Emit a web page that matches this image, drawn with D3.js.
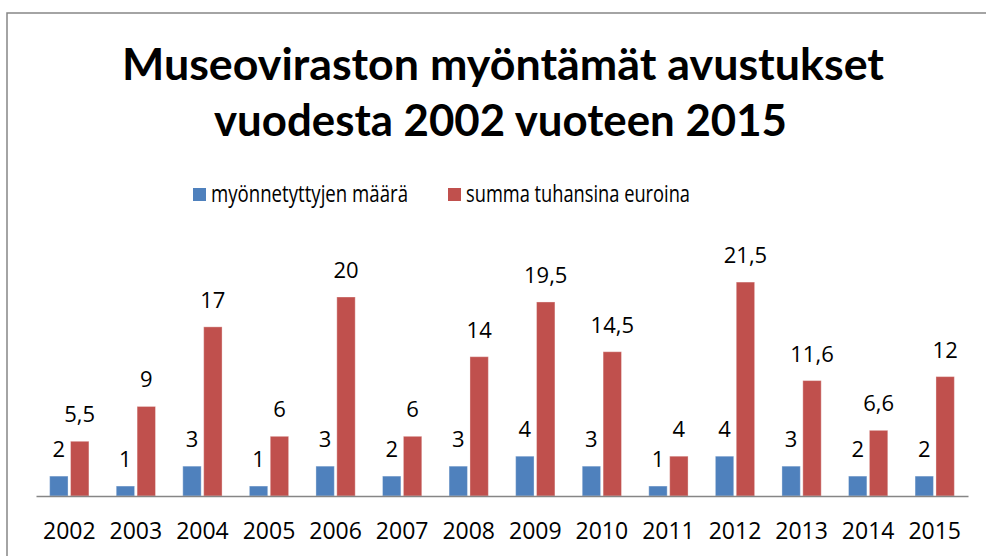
<!DOCTYPE html>
<html>
<head>
<meta charset="utf-8">
<script src="https://cdn.jsdelivr.net/npm/d3@7"></script>
<style>
  body { margin: 0; background: #fff; }
  svg { display: block; font-family: "Open Sans", Lato, sans-serif; }
</style>
</head>
<body>
<div id="chart"></div>
<script>
const width = 986, height = 556;

// data
const years = ["2002", "2003", "2004", "2005", "2006", "2007", "2008", "2009", "2010", "2011", "2012", "2013", "2014", "2015"];
const seriesNames = ["myönnetyttyjen määrä", "summa tuhansina euroina"];
const countValues = [2, 1, 3, 1, 3, 2, 3, 4, 3, 1, 4, 3, 2, 2];
const sumValues = [5.5, 9, 17, 6, 20, 6, 14, 19.5, 14.5, 4, 21.5, 11.6, 6.6, 12];
const colors = ["#4F81BD", "#C0504D"];

const rows = years.map((y, i) => ({ year: y, values: [countValues[i], sumValues[i]] }));

const svg = d3.select("#chart")
    .append("svg")
    .attr("width", width)
    .attr("height", height);

// chart border (runs off the right and bottom edge)
svg.append("rect")
    .attr("x", 7).attr("y", 13)
    .attr("width", 1000).attr("height", 600)
    .attr("fill", "none")
    .attr("stroke", "#868686")
    .attr("stroke-width", 1.5);

// Title
const title = svg.append("g")
    .attr("font-family", "Lato, 'Open Sans', sans-serif")
    .attr("font-weight", "bold").attr("fill", "#000").attr("text-anchor", "middle");
title.append("text")
    .attr("x", 503).attr("y", 80)
    .attr("font-size", "44px")
    .attr("textLength", 762).attr("lengthAdjust", "spacingAndGlyphs")
    .text("Museoviraston myöntämät avustukset");
title.append("text")
    .attr("x", 500.5).attr("y", 136)
    .attr("font-size", "44px")
    .attr("textLength", 573).attr("lengthAdjust", "spacingAndGlyphs")
    .text("vuodesta 2002 vuoteen 2015");

// Legend
const legendX = [193, 448];
const legendW = [197, 224];
seriesNames.forEach((name, i) => {
    const g = svg.append("g").attr("transform", `translate(${legendX[i]},188)`);
    g.append("rect").attr("width", 13).attr("height", 13).attr("fill", colors[i]);
    g.append("text")
        .attr("x", 18).attr("y", 14)
        .attr("font-size", "23px")
        .attr("fill", "#000")
        .attr("textLength", legendW[i]).attr("lengthAdjust", "spacingAndGlyphs")
        .text(name);
});

// Scales
const x0 = d3.scaleBand()
    .domain(years)
    .range([36, 968])
    .paddingInner(0.41)
    .paddingOuter(0.205);

const x1 = d3.scaleBand()
    .domain([0, 1])
    .range([0, x0.bandwidth()])
    .paddingInner(0.12);

const y = d3.scaleLinear()
    .domain([0, 25])
    .range([496, 496 - 25 * 9.95]);

const fmt = v => String(v).replace(".", ",");

// Bars
const groups = svg.selectAll("g.year")
    .data(rows)
    .enter()
    .append("g")
    .attr("class", "year")
    .attr("transform", d => `translate(${x0(d.year)},0)`);

groups.selectAll("rect")
    .data(d => d.values)
    .enter()
    .append("rect")
    .attr("x", (v, i) => x1(i))
    .attr("y", v => y(v))
    .attr("width", x1.bandwidth())
    .attr("height", v => y(0) - y(v))
    .attr("fill", (v, i) => colors[i])
    .attr("stroke", "#fff")
    .attr("stroke-opacity", 0.35)
    .attr("stroke-width", 1);

// Value labels
groups.selectAll("text")
    .data(d => d.values)
    .enter()
    .append("text")
    .attr("x", (v, i) => x1(i) + x1.bandwidth() / 2)
    .attr("y", v => y(v) - 19)
    .attr("text-anchor", "middle")
    .attr("font-size", "22px")
    .attr("fill", "#000")
    .text(fmt);

// X axis
const xAxis = svg.append("g")
    .attr("transform", `translate(0,${y(0)})`)
    .call(d3.axisBottom(x0).tickSize(0).tickPadding(0));
xAxis.select(".domain").attr("stroke", "#868686").attr("stroke-width", 1.5);
xAxis.selectAll("text")
    .attr("font-family", "'Open Sans', Lato, sans-serif")
    .attr("font-size", "23px")
    .attr("fill", "#000")
    .attr("dy", null)
    .attr("y", 43);
</script>
</body>
</html>
